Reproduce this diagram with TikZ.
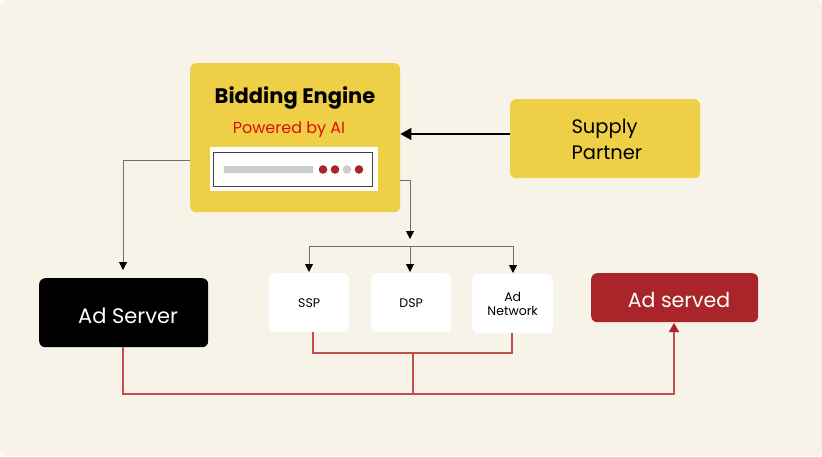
\documentclass[tikz,border=0pt]{standalone}
\usepackage{fontspec}
\setmainfont{Poppins}
\usetikzlibrary{arrows.meta,positioning}
\definecolor{bg}{HTML}{F7F3E8}
\definecolor{ylw}{HTML}{EFCF46}
\definecolor{adred}{HTML}{AA2529}
\definecolor{linered}{HTML}{C0504D}
\definecolor{pwred}{HTML}{E30B0B}
\definecolor{lgray}{HTML}{CCCCCC}
\definecolor{lnk}{HTML}{6E6E6E}
\tikzset{
  box/.style={rounded corners=6pt, minimum width=#1, inner sep=0pt, align=center},
  conn/.style={draw=lnk, line width=0.9pt, -{Triangle[length=8pt,width=8pt,color=black,fill=black]}},
  redconn/.style={draw=linered, line width=1.4pt},
}
\begin{document}
\begin{tikzpicture}[x=1pt,y=-1pt]
\useasboundingbox (0,0) rectangle (822,456);
\fill[white] (0,0) rectangle (822,456);
\fill[bg, rounded corners=5pt] (0,0) rectangle (822,456);

% Bidding engine
\node[box=210pt, minimum height=149pt, fill=ylw, anchor=north west] (be) at (190,63) {};
\node[font=\bfseries\fontsize{21}{24}\selectfont, anchor=center] (bet) at (295,98) {Bidding Engine};
\node[font=\fontsize{16}{19}\selectfont, text=pwred, anchor=center] (pai) at (289,130) {Powered by AI};
\node[fill=white, minimum width=168pt, minimum height=44pt, inner sep=0pt, anchor=north west] (panel) at (210,147) {};
\node[draw=black!75, line width=0.8pt, minimum width=159pt, minimum height=34pt, inner sep=0pt, anchor=north west] (inner) at (213,152) {};
\fill[lgray] (224,166) rectangle (313,173);
\foreach \x/\c in {323/adred,335/adred,347/lgray,359/adred}
  \fill[\c] (\x,169.5) circle (4.3);

% Supply partner
\node[box=190pt, minimum height=79pt, fill=ylw, anchor=north west] (sp) at (510,99) {};
\node[font=\fontsize{19.5}{26}\selectfont, align=left, anchor=west] (spt) at (568,139) {Supply\\Partner};

% Ad server
\node[box=169pt, minimum height=69pt, fill=black, anchor=north west] (as) at (39,278) {};
\node[font=\fontsize{21}{24}\selectfont, text=white] (ast) at (128,316) {Ad Server};

% SSP DSP AdNetwork
\node[box=80pt, minimum height=59pt, fill=white, anchor=north west, font=\fontsize{12.5}{14.5}\selectfont] (ssp) at (269,273) {SSP};
\node[box=80pt, minimum height=59pt, fill=white, anchor=north west, font=\fontsize{12.5}{14.5}\selectfont] (dsp) at (371,273) {DSP};
\node[box=81pt, minimum height=59pt, fill=white, anchor=north west, font=\fontsize{12.5}{14.5}\selectfont] (adn) at (472,274) {Ad\\Network};

% Ad served
\node[box=167pt, minimum height=49pt, fill=adred, anchor=north west] (ads) at (591,273) {};
\node[font=\fontsize{20.5}{24}\selectfont, text=white] (adst) at (679,300) {Ad served};

% connectors
\draw[draw=black, line width=1.2pt, -{Triangle[length=11pt,width=12pt]}] (sp.west |- 0,134) -- (be.east |- 0,134);
\draw[conn] (be.west |- 0,160) -| (123,270);
\coordinate (split) at (410,246);
\draw[conn] (be.east |- 0,180) -| (410,239);
\draw[draw=lnk, line width=0.9pt] (309,246) -- (513,246);
\draw[conn] (309,246) -- (309,272);
\draw[conn] (split) -- (410,272);
\draw[conn] (513,246) -- (513,273);

% red connectors
\draw[redconn] (313,332) -- (313,353) -- (512,353) -- (512,333);
\draw[redconn] (413,353) -- (413,394);
\draw[redconn, -{Triangle[length=9pt,width=10pt,color=adred,fill=adred]}] (123,347) -- (123,394) -- (674,394) -- (674,323);
\end{tikzpicture}
\end{document}
